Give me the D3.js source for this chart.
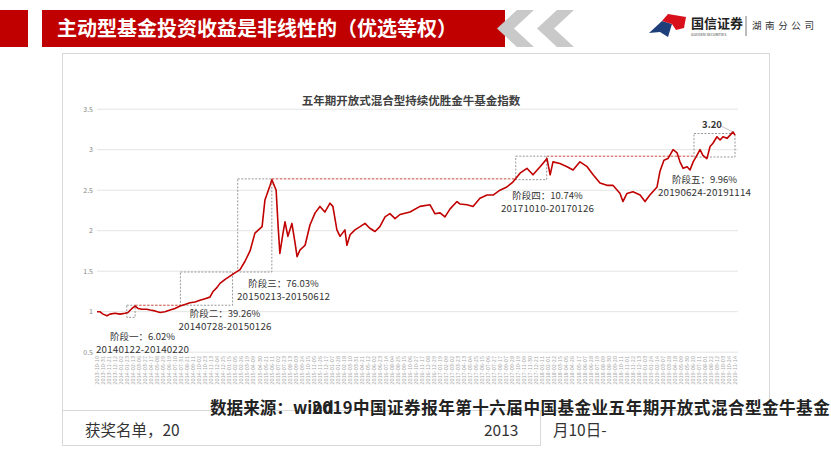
<!DOCTYPE html>
<html><head><meta charset="utf-8">
<script src="https://cdn.jsdelivr.net/npm/d3@7"></script>
<style>
html,body{margin:0;padding:0;background:#fff;}
svg{display:block;}
text{font-family:"Noto Sans CJK SC","Noto Sans",sans-serif;}
</style></head>
<body>
<svg id="c" width="831" height="468"></svg>
<script>
// ---------------- data ----------------
const dates = ["2013-10-10","2013-10-20","2013-10-31","2013-11-14","2013-11-24","2013-12-12","2013-12-29","2014-01-16","2014-01-26","2014-02-09","2014-02-20","2014-03-02","2014-03-16","2014-04-02","2014-04-13","2014-04-30","2014-05-18","2014-06-04","2014-06-22","2014-07-09","2014-07-27","2014-08-13","2014-08-30","2014-09-17","2014-10-04","2014-10-22","2014-11-08","2014-11-19","2014-12-03","2014-12-13","2014-12-31","2015-01-17","2015-02-03","2015-02-21","2015-03-10","2015-03-28","2015-04-14","2015-05-09","2015-05-19","2015-06-06","2015-06-12","2015-06-27","2015-07-04","2015-07-10","2015-07-21","2015-07-28","2015-08-07","2015-08-21","2015-09-01","2015-09-08","2015-09-18","2015-10-06","2015-10-23","2015-11-10","2015-11-27","2015-12-14","2016-01-01","2016-01-11","2016-01-25","2016-02-05","2016-02-22","2016-02-29","2016-03-11","2016-03-28","2016-04-15","2016-05-02","2016-05-19","2016-06-06","2016-06-23","2016-07-11","2016-07-28","2016-08-15","2016-09-01","2016-10-06","2016-11-10","2016-12-15","2017-01-01","2017-01-19","2017-02-05","2017-02-23","2017-03-19","2017-03-29","2017-04-23","2017-05-14","2017-06-07","2017-07-02","2017-07-23","2017-08-16","2017-09-09","2017-09-30","2017-10-25","2017-11-18","2017-12-09","2018-01-03","2018-01-27","2018-02-07","2018-02-17","2018-03-13","2018-04-07","2018-04-28","2018-05-22","2018-06-16","2018-07-07","2018-07-31","2018-08-24","2018-09-14","2018-10-09","2018-10-19","2018-11-02","2018-11-23","2018-12-18","2019-01-04","2019-01-21","2019-02-15","2019-02-25","2019-03-11","2019-03-25","2019-04-12","2019-04-26","2019-05-06","2019-05-17","2019-05-31","2019-06-10","2019-06-21","2019-07-04","2019-07-15","2019-07-25","2019-08-08","2019-08-19","2019-08-29","2019-09-12","2019-09-23","2019-10-03","2019-10-17","2019-10-28","2019-11-07","2019-11-14"];
const indexValues = [1.00,1.00,0.97,0.95,0.97,0.98,0.97,0.98,0.99,1.04,1.07,1.04,1.03,1.03,1.02,1.01,0.99,1.00,1.02,1.04,1.07,1.09,1.11,1.12,1.14,1.16,1.18,1.25,1.30,1.35,1.40,1.44,1.48,1.52,1.62,1.75,1.97,2.05,2.38,2.56,2.63,2.50,2.05,1.72,1.97,2.11,1.93,2.09,1.85,1.68,1.76,1.82,2.07,2.22,2.30,2.23,2.34,2.30,2.01,1.93,2.01,1.82,1.95,2.01,2.05,2.09,2.03,1.99,2.05,2.17,2.21,2.15,2.20,2.23,2.30,2.32,2.21,2.22,2.17,2.27,2.36,2.33,2.32,2.30,2.40,2.44,2.44,2.50,2.54,2.60,2.71,2.77,2.69,2.79,2.89,2.69,2.85,2.83,2.79,2.75,2.85,2.79,2.69,2.59,2.56,2.56,2.46,2.36,2.46,2.48,2.44,2.36,2.44,2.54,2.73,2.87,2.89,3.00,2.96,2.85,2.77,2.79,2.75,2.85,2.93,3.00,2.93,2.89,3.04,3.08,3.16,3.12,3.16,3.14,3.18,3.22,3.18];
const yTicks = [0.5,1,1.5,2,2.5,3,3.5];
const yTickLabels = ["0.5","1","1.5","2","2.5","3","3.5"];
const xTickLabels = ["2013-10-10","2013-10-31","2013-11-21","2013-12-12","2014-01-02","2014-01-23","2014-02-13","2014-03-06","2014-03-27","2014-04-17","2014-05-08","2014-05-29","2014-06-19","2014-07-10","2014-07-31","2014-08-21","2014-09-11","2014-10-02","2014-10-23","2014-11-13","2014-12-04","2014-12-25","2015-01-15","2015-02-05","2015-02-26","2015-03-19","2015-04-09","2015-04-30","2015-05-21","2015-06-11","2015-07-02","2015-07-23","2015-08-13","2015-09-03","2015-09-24","2015-10-15","2015-11-05","2015-11-26","2015-12-17","2016-01-07","2016-01-28","2016-02-18","2016-03-10","2016-03-31","2016-04-21","2016-05-12","2016-06-02","2016-06-23","2016-07-14","2016-08-04","2016-08-25","2016-09-15","2016-10-06","2016-10-27","2016-11-17","2016-12-08","2016-12-29","2017-01-19","2017-02-09","2017-03-02","2017-03-23","2017-04-13","2017-05-04","2017-05-25","2017-06-15","2017-07-06","2017-07-27","2017-08-17","2017-09-07","2017-09-28","2017-10-19","2017-11-09","2017-11-30","2017-12-21","2018-01-11","2018-02-01","2018-02-22","2018-03-15","2018-04-05","2018-04-26","2018-05-17","2018-06-07","2018-06-28","2018-07-19","2018-08-09","2018-08-30","2018-09-20","2018-10-11","2018-11-01","2018-11-22","2018-12-13","2019-01-03","2019-01-24","2019-02-14","2019-03-07","2019-03-28","2019-04-18","2019-05-09","2019-05-30","2019-06-20","2019-07-11","2019-08-01","2019-08-22","2019-09-12","2019-10-03","2019-10-24","2019-11-14"];
const stageNames = ["阶段一：6.02%","阶段二：39.26%","阶段三：76.03%","阶段四：10.74%","阶段五：9.96%"];
const stagePeriods = ["20140122-20140220","20140728-20150126","20150213-20150612","20171010-20170126","20190624-20191114"];
const stageStart = ["2014-01-22","2014-07-28","2015-02-13","2017-10-10","2019-06-24"];
const stageEnd = ["2014-02-20","2015-01-26","2015-06-12","2018-01-26","2019-11-14"];
const stageLow = [0.93,1.08,1.49,2.63,2.91];
const stageHigh = [1.08,1.49,2.64,2.92,3.20];
const lastValueLabel = "3.20";
const chartTitle = "五年期开放式混合型持续优胜金牛基金指数";
const slideTitle = "主动型基金投资收益是非线性的（优选等权）";

// ---------------- drawing ----------------
const svg = d3.select("#c");
const parse = d3.timeParse("%Y-%m-%d");
const x = d3.scaleTime().domain([parse("2013-10-10"), parse("2019-11-14")]).range([97, 735]);
const y = d3.scaleLinear().domain([0.5, 3.5]).range([352.2, 109.2]);
const LAT = "'Liberation Sans','Noto Sans CJK SC',sans-serif";

// slide header
svg.append("rect").attr("x",0).attr("y",10).attr("width",28).attr("height",37).attr("fill","#c00000");
svg.append("polygon").attr("points","42,10 505,10 505,47 42,47").attr("fill","#c00000");
function chevron(x0){
  return [[x0+20,10],[x0+37,10],[x0+17,28.5],[x0+37,47],[x0+20,47],[x0,28.5]].map(p=>p.join(",")).join(" ");
}
svg.append("polygon").attr("points",chevron(497)).attr("fill","#c9c9c9");
svg.append("polygon").attr("points",chevron(537)).attr("fill","#c9c9c9");
svg.append("text").attr("x",57).attr("y",36).attr("fill","#fff").attr("font-size",20).attr("font-weight","bold").text(slideTitle);

// logo
const logo = svg.append("g");
logo.append("polygon").attr("points","649,33 662,21 672,24 668,37 660,32").attr("fill","#1f3f7a");
logo.append("polygon").attr("points","662,21 668,14 686,17 684,28 676,30 672,24").attr("fill","#d7101b");
logo.append("text").attr("x",691).attr("y",28).attr("font-size",13).attr("font-weight","bold").attr("fill","#222").text("国信证券");
logo.append("text").attr("x",691).attr("y",35.5).attr("font-size",3.6).attr("fill","#333").attr("font-family","Liberation Sans").text("GUOSEN SECURITIES");
logo.append("line").attr("x1",746).attr("x2",746).attr("y1",16).attr("y2",36).attr("stroke","#555").attr("stroke-width",0.8);
logo.append("text").attr("x",752).attr("y",29).attr("font-size",9.5).attr("letter-spacing",3.6).attr("fill","#333").text("湖南分公司");

// frames
svg.append("rect").attr("x",62.5).attr("y",53.5).attr("width",707).attr("height",357).attr("fill","none").attr("stroke","#d9d9d9");
svg.append("rect").attr("x",62.5).attr("y",410.5).attr("width",478).attr("height",35).attr("fill","none").attr("stroke","#d9d9d9");

// chart title
svg.append("text").attr("x",411).attr("y",105).attr("text-anchor","middle").attr("font-size",11.5).attr("font-weight","bold").attr("fill","#404040").text(chartTitle);

// grid + y labels
svg.append("g").selectAll("line").data(yTicks).join("line")
  .attr("x1",97).attr("x2",738).attr("y1",d=>y(d)).attr("y2",d=>y(d))
  .attr("stroke","#e4e4e4").attr("stroke-width",1);
svg.append("g").selectAll("text").data(yTicks).join("text")
  .attr("x",93).attr("y",d=>y(d)+2.3).attr("text-anchor","end").attr("font-size",7).attr("fill","#888")
  .attr("font-family","Liberation Sans").text((d,i)=>yTickLabels[i]);

// x labels
svg.append("g").selectAll("text").data(xTickLabels).join("text")
  .attr("transform",d=>`translate(${x(parse(d))+2},356) rotate(-90)`)
  .attr("text-anchor","end").attr("font-size",5.6).attr("fill","#a8a8a8")
  .attr("font-family","Liberation Sans").text(d=>d);

// stage boxes
const stages = stageNames.map((n,i)=>({n,p:stagePeriods[i],s:parse(stageStart[i]),e:parse(stageEnd[i]),lo:stageLow[i],hi:stageHigh[i]}));
svg.append("g").selectAll("rect").data(stages).join("rect")
  .attr("x",d=>x(d.s)).attr("y",d=>y(d.hi)).attr("width",d=>x(d.e)-x(d.s)).attr("height",d=>y(d.lo)-y(d.hi))
  .attr("fill","none").attr("stroke","#8c8c8c").attr("stroke-width",0.9).attr("stroke-dasharray","2,1.5");
// red dashed connectors
const conns = [[0,1],[2,3],[3,4]];
svg.append("g").selectAll("line").data(conns).join("line")
  .attr("x1",d=>x(stages[d[0]].e)).attr("x2",d=>x(stages[d[1]].s))
  .attr("y1",d=>y(stages[d[0]].hi)).attr("y2",d=>y(stages[d[0]].hi))
  .attr("stroke","#c0392b").attr("stroke-width",0.9).attr("stroke-dasharray","2.5,1.5");

// line
const pts = dates.map((d,i)=>[parse(d), indexValues[i]]);
svg.append("path").datum(pts)
  .attr("d", d3.line().x(d=>x(d[0])).y(d=>y(d[1])))
  .attr("fill","none").attr("stroke","#c00000").attr("stroke-width",1.6).attr("stroke-linejoin","round");

// stage labels (two lines each)
const lab = [[142.5,339.5,352.5],[225,317,330],[283.5,286.5,299.5],[547.5,198.5,211.5],[704.5,182.5,195.5]];
stages.forEach((s,i)=>{
  svg.append("text").attr("x",lab[i][0]).attr("y",lab[i][1]).attr("text-anchor","middle").attr("font-size",9.5).attr("fill","#333")
    .attr("font-family",LAT).text(s.n);
  svg.append("text").attr("x",lab[i][0]).attr("y",lab[i][2]).attr("text-anchor","middle").attr("font-size",9.8).attr("fill","#333")
    .attr("font-family","'Liberation Sans',sans-serif").attr("textLength",93).text(s.p);
});

// last value label
svg.append("text").attr("x",712).attr("y",128).attr("text-anchor","middle").attr("font-size",9.5).attr("font-weight","bold").attr("fill","#333").text(lastValueLabel);
svg.append("line").attr("x1",721).attr("y1",126).attr("x2",733).attr("y2",132).attr("stroke","#999").attr("stroke-width",0.6);

// source text (overprinted as in the slide)
svg.append("text").attr("x",210).attr("y",414).attr("font-size",16.6).attr("font-weight","bold").attr("fill","#222").attr("font-family",LAT).text("数据来源：wind");
svg.append("text").attr("x",312).attr("y",414).attr("font-size",16.6).attr("font-weight","bold").attr("fill","#222").attr("font-family",LAT).attr("letter-spacing",0.45).text("2019中国证券报年第十六届中国基金业五年期开放式混合型金牛基金");
svg.append("text").attr("x",85).attr("y",435.5).attr("font-size",15.5).attr("fill","#333").attr("font-family",LAT).text("获奖名单，20");
svg.append("text").attr("x",484).attr("y",435.5).attr("font-size",15.5).attr("fill","#333").attr("font-family",LAT).text("2013");
svg.append("text").attr("x",553).attr("y",435.5).attr("font-size",15.5).attr("fill","#333").attr("font-family",LAT).text("月10日-");
</script>
</body></html>
